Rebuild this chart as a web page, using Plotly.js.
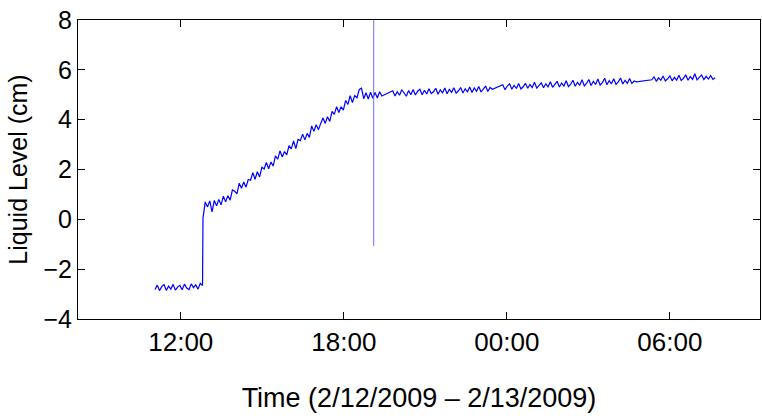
<!DOCTYPE html>
<html>
<head>
<meta charset="utf-8">
<script src="https://cdn.plot.ly/plotly-3.0.1.min.js"></script>
<style>
  html, body { margin: 0; padding: 0; background: #fff; }
</style>
</head>
<body>
<div id="level-graph" style="width:762px;height:420px;"></div>
<script>

/*
 * DATA (logged every 5 min, start given in minutes after 2/12/2009 00:00)
*/

// before the fill: level sits near -2.7 cm
var seg1_start = 663;   // 11:03
var seg1_level = [-2.82, -2.64, -2.86, -2.70, -2.62, -2.85, -2.68, -2.80, -2.61, -2.84, -2.72,
                  -2.65, -2.83, -2.60, -2.76, -2.82, -2.59, -2.74, -2.63, -2.80, -2.57, -2.66];

// jump at 12:49, then the steady rise up to ~5 cm
var seg2_start = 769;   // 12:49
var seg2_level = [0.05, 0.70, 0.50, 0.74, 0.30, 0.76, 0.54, 0.80, 0.58, 0.93,
                  0.70, 0.95, 0.77, 1.18, 1.13, 1.02, 1.45, 1.25, 1.50, 1.29,
                  1.60, 1.57, 1.87, 1.61, 1.91, 1.70, 2.09, 2.02, 2.28, 2.03,
                  2.30, 2.14, 2.55, 2.41, 2.75, 2.50, 2.72, 2.59, 2.96, 2.83,
                  3.15, 2.84, 3.21, 3.16, 3.42, 3.19, 3.45, 3.29, 3.75, 3.53,
                  3.80, 3.60, 3.85, 4.07, 3.85, 4.12, 3.93, 4.33, 4.21, 4.52,
                  4.29, 4.52, 4.38, 4.77, 4.61, 4.96, 4.69, 4.97, 4.88, 5.21,
                  5.26, 4.84, 5.08, 4.83, 5.10, 4.86, 5.09, 4.87, 5.12, 4.95];

var seg3_start = 1188;  // 19:48
var seg3_level = [5.16, 4.95, 5.12, 4.98, 5.20, 5.04, 4.94, 5.17, 5.00,
                  5.21, 4.99, 5.14, 5.22, 5.00, 5.18, 5.03, 5.24, 5.05,
                  5.12, 5.26, 5.02, 5.20, 5.08, 5.27, 5.04, 5.22, 5.10,
                  5.28, 5.06, 5.16, 5.29, 5.07, 5.24, 5.12, 5.31, 5.09,
                  5.27, 5.14, 5.33, 5.11, 5.25, 5.35, 5.13, 5.29, 5.22];

var seg4_start = 1431;  // 23:51
var seg4_level = [5.40, 5.20, 5.35, 5.44, 5.22, 5.38, 5.25, 5.45, 5.23, 5.32,
                  5.46, 5.26, 5.41, 5.29, 5.50, 5.27, 5.37, 5.48, 5.28, 5.44,
                  5.32, 5.52, 5.30, 5.40, 5.54, 5.31, 5.47, 5.35, 5.56, 5.33,
                  5.43, 5.58, 5.34, 5.50, 5.38, 5.60, 5.36, 5.46, 5.61, 5.37,
                  5.54, 5.41, 5.63, 5.39, 5.49, 5.66, 5.40, 5.57, 5.44, 5.64,
                  5.42, 5.52, 5.67, 5.43, 5.58, 5.46, 5.65, 5.45, 5.55, 5.52];

var seg5_start = 1760;  // 05:20 next day
var seg5_level = [5.60, 5.72, 5.54, 5.68, 5.58, 5.75, 5.55, 5.64, 5.76, 5.56,
                  5.70, 5.59, 5.78, 5.57, 5.66, 5.80, 5.58, 5.73, 5.62, 5.84,
                  5.60, 5.70, 5.79, 5.61, 5.74, 5.63, 5.77, 5.62, 5.68];

var step_min = 5;

// glitch line at 19:06
var spike_min = 1146;
var spike_level = [-1.07, 8.5];

// axis
var x_range_min = [493, 1999];          // 08:13 -> 09:19 next day
var x_tick_min = [720, 1080, 1440, 1800];
var x_tick_text = ['12:00', '18:00', '00:00', '06:00'];
var y_ticks = [-4, -2, 0, 2, 4, 6, 8];


/*
 * PLOTTING
 *
*/

function pad(n) { return (n < 10 ? '0' : '') + n; }

// minutes after 2/12 midnight -> plotly date string
function stamp(min) {
    var day = 12 + Math.floor(min / 1440);
    var m = min % 1440;
    return '2009-02-' + day + ' ' + pad(Math.floor(m / 60)) + ':' + pad(m % 60);
}

function levelPlot() {
    var segs = [[seg1_start, seg1_level], [seg2_start, seg2_level], [seg3_start, seg3_level],
                [seg4_start, seg4_level], [seg5_start, seg5_level]];
    var times = [], levels = [];
    for (var s = 0; s < segs.length; s++) {
        for (var i = 0; i < segs[s][1].length; i++) {
            times.push(stamp(segs[s][0] + i * step_min));
            levels.push(segs[s][1][i]);
        }
    }

    var trace_level = {
        x: times,
        y: levels,
        type: 'scatter',
        mode: 'lines',
        line: {color: '#0000ff', width: 1.2},
        hoverinfo: 'skip'
    };

    var trace_spike = {
        x: [stamp(spike_min), stamp(spike_min)],
        y: spike_level,
        type: 'scatter',
        mode: 'lines',
        line: {color: '#6f6fff', width: 1},
        hoverinfo: 'skip'
    };

    var fam = 'Liberation Sans, Arial, Helvetica, sans-serif';

    var layout = {
        width: 762,
        height: 420,
        margin: {l: 78, r: 2, t: 20, b: 101, pad: 0},
        paper_bgcolor: '#fff',
        plot_bgcolor: '#fff',
        showlegend: false,
        font: {family: fam, size: 24, color: '#000'},
        xaxis: {
            type: 'date',
            range: [stamp(x_range_min[0]), stamp(x_range_min[1])],
            tickvals: x_tick_min.map(stamp),
            ticktext: x_tick_text,
            ticks: 'inside',
            ticklen: 7,
            tickcolor: '#000',
            showline: true,
            linecolor: '#000',
            linewidth: 1,
            mirror: 'ticks',
            showgrid: false,
            zeroline: false,
            tickfont: {family: fam, size: 26, color: '#000'},
            title: {text: 'Time (2/12/2009 \u2013 2/13/2009)', font: {family: fam, size: 27, color: '#000'}, standoff: 31}
        },
        yaxis: {
            range: [-4, 8],
            tickvals: y_ticks,
            ticktext: y_ticks.map(function (v) { return v < 0 ? '\u2212' + (-v) : String(v); }),
            ticks: 'inside',
            ticklen: 7,
            tickcolor: '#000',
            showline: true,
            linecolor: '#000',
            linewidth: 1,
            mirror: 'ticks',
            showgrid: false,
            zeroline: false,
            tickfont: {family: fam, size: 25, color: '#000'},
            title: {text: 'Liquid Level (cm)', font: {family: fam, size: 25, color: '#000'}, standoff: 8}
        }
    };

    Plotly.newPlot('level-graph', [trace_level, trace_spike], layout, {staticPlot: true, displayModeBar: false});
}

levelPlot();
</script>
</body>
</html>
